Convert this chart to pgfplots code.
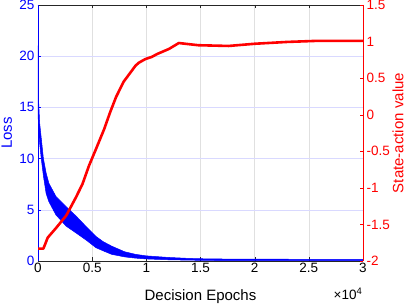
\documentclass[border=0pt]{standalone}
\usepackage{fontspec}
\setmainfont{Liberation Sans}
\usepackage{pgfplots}
\pgfplotsset{compat=1.18}
\definecolor{mblue}{rgb}{0,0,1}
\definecolor{mred}{rgb}{1,0,0}
\begin{document}
\begin{tikzpicture}
\begin{axis}[
  name=main,
  width=325pt, height=256pt, scale only axis,
  xmin=0, xmax=3, ymin=0, ymax=25,
  xtick={0,0.5,1,1.5,2,2.5,3},
  ytick={0,5,10,15,20,25},
  separate axis lines,
  x axis line style={black!85},
  y axis line style={mblue},
  tick align=inside,
  xtick pos=both, ytick pos=left,
  major tick length=3.5pt,
  xtick style={black!85},
  ytick style={mblue},
  xmajorgrids, ymajorgrids,
  x grid style={black!12},
  y grid style={mblue!15},
  /pgf/number format/assume math mode=true,
  ticklabel style={font=\fontsize{13.5}{15}\selectfont},
  xticklabel style={yshift=1pt},
  yticklabel style={mblue},
  xlabel={Decision Epochs},
  ylabel={Loss},
  xlabel style={font=\fontsize{15}{17}\selectfont, at={(axis description cs:0.5,-0.14)}, anchor=center},
  ylabel style={font=\fontsize{15}{17}\selectfont, mblue, at={(axis description cs:-0.096,0.5)}, anchor=center},
  clip=true,
]
\addplot[fill=mblue, draw=mblue, line width=0.5pt] coordinates {
 (0,21) (0.004,16) (0.015,13.5) (0.03,12) (0.05,10) (0.075,8.6) (0.1,7.6)
 (0.166,6.3) (0.26,5.3) (0.35,4.4) (0.45,3.3) (0.535,2.4) (0.6,1.9)
 (0.68,1.45) (0.8,0.9) (0.9,0.65) (1.0,0.5) (1.2,0.35) (1.4,0.25)
 (1.6,0.2) (2.0,0.18) (3.0,0.15)
 (3.0,0.03) (2.0,0.03) (1.6,0.05) (1.4,0.08) (1.2,0.12) (1.0,0.2) (0.9,0.28)
 (0.8,0.4) (0.68,0.65) (0.6,1.0) (0.535,1.3) (0.45,2.0) (0.35,2.75)
 (0.26,3.4) (0.166,4.5) (0.1,5.8) (0.075,6.6) (0.05,8.3) (0.03,10)
 (0.015,11.5) (0.004,13) (0.002,14) (0.002,21)
} -- cycle;
\end{axis}
\begin{axis}[
  width=325pt, height=256pt, scale only axis,
  xmin=0, xmax=3, ymin=-2, ymax=1.5,
  axis x line=none,
  axis y line*=right,
  y axis line style={mred},
  ytick={-2,-1.5,-1,-0.5,0,0.5,1,1.5},
  tick align=inside,
  major tick length=3.5pt,
  ytick style={mred},
  /pgf/number format/assume math mode=true,
  ticklabel style={font=\fontsize{13.5}{15}\selectfont},
  yticklabel style={mred},
  ylabel={State-action value},
  ylabel style={font=\fontsize{15}{17}\selectfont, mred, at={(axis description cs:1.108,0.5)}, anchor=center},
]
\addplot[mred, line width=2.6pt, line join=round] coordinates {
 (0,-1.83) (0.05,-1.83) (0.09,-1.68) (0.166,-1.55) (0.26,-1.38) (0.35,-1.13)
 (0.41,-0.95) (0.47,-0.70) (0.535,-0.47) (0.61,-0.20) (0.665,0.03)
 (0.72,0.24) (0.79,0.45) (0.87,0.61) (0.90,0.67) (0.93,0.71)
 (0.99,0.76) (1.05,0.79) (1.10,0.83) (1.21,0.90) (1.30,0.98) (1.48,0.95)
 (1.76,0.94) (2.0,0.97) (2.3,0.995) (2.58,1.01) (3.0,1.01)
};
\end{axis}
\node[anchor=center, font=\fontsize{13.5}{15}\selectfont, inner sep=0pt]
  at ([xshift=-15pt,yshift=-33pt]main.south east) {×10\textsuperscript{4}};
\pgfresetboundingbox
\path[use as bounding box] ([xshift=-38pt,yshift=-43pt]main.south west) rectangle ([xshift=49pt,yshift=5pt]main.north east);
\end{tikzpicture}
\end{document}
